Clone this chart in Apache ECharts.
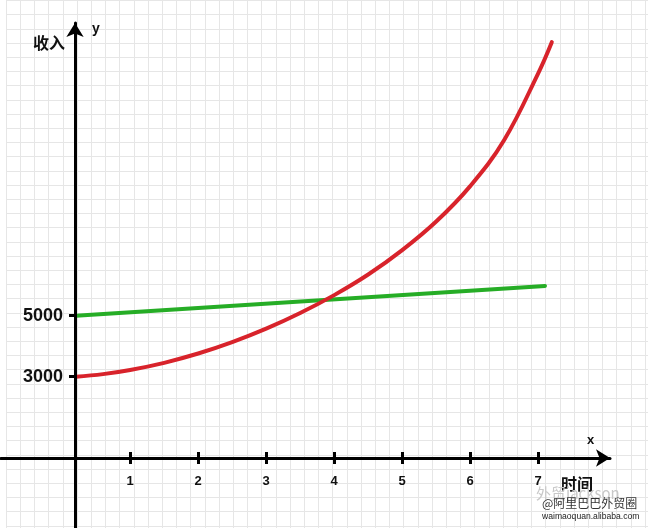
<!DOCTYPE html>
<html>
<head>
<meta charset="utf-8">
<script src="https://cdn.jsdelivr.net/npm/echarts@6/dist/echarts.min.js"></script>
<style>
html,body{margin:0;padding:0;background:#fff;}
#c{width:648px;height:528px;}
</style>
</head>
<body>
<div id="c"></div>
<script>
// ---- data ----
const xTickValues = [1, 2, 3, 4, 5, 6, 7];
const yTickValues = [3000, 5000];
const redX = [0.2, 0.6, 1.0, 1.5, 2.0, 2.5, 3.0, 3.5, 4.0, 4.5, 5.0, 5.5, 6.0, 6.5, 7.0, 7.2];
const redY = [3000, 3085, 3220, 3455, 3760, 4134, 4575, 5088, 5675, 6350, 7150, 8088, 9250, 10763, 12950, 13970];
const greenX = [0.2, 7.1];
const greenY = [5000, 5975];
const yName = '收入';
const xName = '时间';

const zip = (a, b) => a.map((v, i) => [v, b[i]]);

const chart = echarts.init(document.getElementById('c'), null, {renderer: 'canvas'});
const axisColor = '#000';
const numFont = '"Liberation Sans", Arial, sans-serif';
const cjkFont = '"Noto Sans CJK SC", sans-serif';

const option = {
  backgroundColor: '#fff',
  animation: false,
  grid: [
    {left: 1, right: 38, top: 23, bottom: 0},
    {left: 6, right: 0, top: 0.4, bottom: 0}
  ],
  xAxis: [
    {
      type: 'value', gridIndex: 0, min: -0.9, max: 8.056, position: 'bottom', offset: -70, z: 3,
      axisLine: {show: true, onZero: false, symbol: ['none', 'arrow'], symbolSize: [13, 14],
        lineStyle: {color: axisColor, width: 3}},
      axisTick: {show: true, customValues: xTickValues, length: 6, lineStyle: {color: axisColor, width: 3}},
      axisLabel: {show: true, customValues: xTickValues, margin: 17, color: '#111',
        fontFamily: numFont, fontWeight: 'bold', fontSize: 13},
      splitLine: {show: false}
    },
    {
      type: 'value', gridIndex: 0, min: -0.9, max: 8.056, position: 'bottom', offset: -70, z: 3,
      axisLine: {show: false, onZero: false},
      axisTick: {show: true, inside: true, customValues: xTickValues, length: 6, lineStyle: {color: axisColor, width: 3}},
      axisLabel: {show: false},
      splitLine: {show: false}
    },
    {
      type: 'value', gridIndex: 1, min: 0, max: 642, interval: 14.2, z: 0,
      axisLine: {show: false}, axisTick: {show: false}, axisLabel: {show: false},
      splitLine: {show: true, lineStyle: {color: '#e6e6e6', width: 1}}
    }
  ],
  yAxis: [
    {
      type: 'value', gridIndex: 0, min: -1961, max: 14598, position: 'left', offset: -74, z: 3,
      axisLine: {show: true, onZero: false, symbol: ['none', 'arrow'], symbolSize: [13, 14],
        lineStyle: {color: axisColor, width: 3}},
      axisTick: {show: true, customValues: yTickValues, length: 6, lineStyle: {color: axisColor, width: 3}},
      axisLabel: {show: true, customValues: yTickValues, margin: 12, color: '#111',
        fontFamily: numFont, fontWeight: 'bold', fontSize: 18, formatter: (v) => String(v)},
      splitLine: {show: false}
    },
    {
      type: 'value', gridIndex: 1, min: 0, max: 527.6, interval: 14.2, inverse: true, z: 0,
      axisLine: {show: false}, axisTick: {show: false}, axisLabel: {show: false},
      splitLine: {show: true, lineStyle: {color: '#e6e6e6', width: 1}}
    }
  ],
  series: [
    {
      type: 'line', xAxisIndex: 0, yAxisIndex: 0, data: zip(greenX, greenY),
      showSymbol: false, z: 2,
      lineStyle: {color: '#26ad26', width: 4, cap: 'round'}
    },
    {
      type: 'line', xAxisIndex: 0, yAxisIndex: 0, data: zip(redX, redY),
      smooth: 0.4, showSymbol: false, z: 2,
      lineStyle: {color: '#d8232b', width: 4, cap: 'round'}
    }
  ],
  graphic: [
    {type: 'text', left: 33, top: 35, z: 10, style: {text: yName, font: 'bold 16px ' + cjkFont, fill: '#111'}},
    {type: 'text', left: 92, top: 22, z: 10, style: {text: 'y', font: 'bold 14px ' + numFont, fill: '#111'}},
    {type: 'text', left: 587, top: 434, z: 10, style: {text: 'x', font: 'bold 13px ' + numFont, fill: '#111'}},
    {type: 'text', left: 561, top: 476, z: 10, style: {text: xName, font: 'bold 16px ' + cjkFont, fill: '#111'}},
    {type: 'text', left: 536, top: 486, z: 10, style: {text: '外贸jackson', font: '15px ' + cjkFont, fill: '#c8c8c8'}},
    {type: 'text', left: 542, top: 497, z: 11, style: {text: '@阿里巴巴外贸圈', font: '12px ' + cjkFont, fill: '#333'}},
    {type: 'text', left: 542, top: 512, z: 11, style: {text: 'waimaoquan.alibaba.com', font: '8.6px ' + numFont, fill: '#222'}}
  ]
};
chart.setOption(option);
</script>
</body>
</html>
